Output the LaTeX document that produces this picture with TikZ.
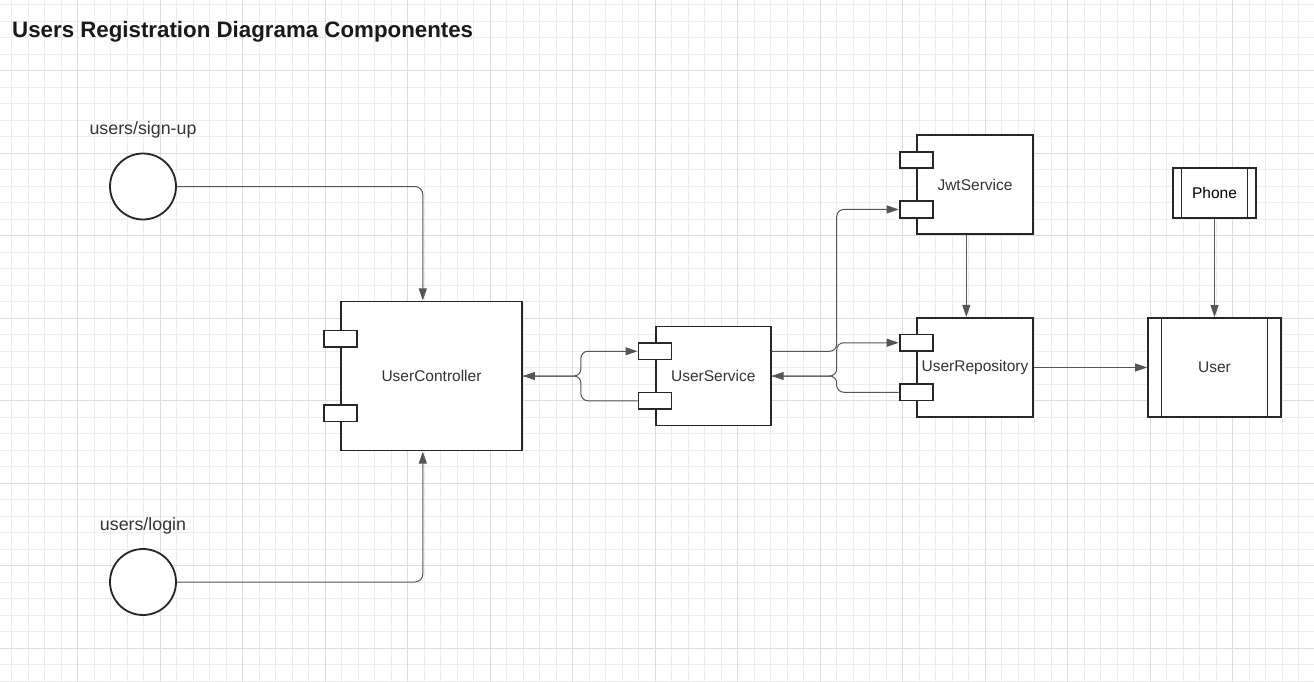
\documentclass[tikz,border=0pt]{standalone}
\usepackage{fontspec}
\setmainfont{Liberation Sans}
\usepackage{tikz}
\usetikzlibrary{arrows.meta,positioning,fit}
\definecolor{gridMinor}{HTML}{EDEDED}
\definecolor{gridMajor}{HTML}{DCDCDC}
\definecolor{inkGray}{HTML}{333333}
\definecolor{wireGray}{HTML}{555555}

\begin{document}
\begin{tikzpicture}[x=1pt, y=-1pt,
    minorgrid/.style={draw=gridMinor, line width=0.8pt},
    majorgrid/.style={draw=gridMajor, line width=0.9pt},
    comp/.style={draw=black!85, line width=1.8pt, fill=white, font=\fontsize{15.5}{18}\selectfont, text=inkGray, inner sep=0pt},
    port/.style={draw=black!85, line width=1.8pt, fill=white, minimum width=33pt, minimum height=16.5pt, inner sep=0pt},
    endpoint/.style={draw=black!85, circle, line width=1.8pt, fill=white, minimum size=66pt, inner sep=0pt},
    lbl/.style={font=\fontsize{17.8}{21}\selectfont, text=inkGray, inner sep=0pt},
    entity/.style={comp, path picture={
        \draw[black!85, line width=1.8pt] ([xshift=#1]path picture bounding box.north west) -- ([xshift=#1]path picture bounding box.south west);
        \draw[black!85, line width=1.8pt] ([xshift=-#1]path picture bounding box.north east) -- ([xshift=-#1]path picture bounding box.south east);}},
    whole/.style={inner sep=0pt, draw=none},
    arr/.style={-{Triangle[length=12pt, width=8pt]}, draw=wireGray, line width=1pt, rounded corners=7pt}
  ]
    \fill[white] (0,0) rectangle (1314,682);
    \useasboundingbox (0,0) rectangle (1314,682);
    \foreach \i in {0,...,79} \draw[minorgrid] ({11.5+16.5*\i},0) -- ++(0,682);
    \foreach \j in {0,...,41} \draw[minorgrid] (0,{4.5+16.5*\j}) -- ++(1314,0);
    \foreach \i in {0,...,15} \draw[majorgrid] ({77.5+82.5*\i},0) -- ++(0,682);
    \foreach \j in {0,...,7} \draw[majorgrid] (0,{70.5+82.5*\j}) -- ++(1314,0);

    \node[anchor=base west, inner sep=0pt, text=black!90, font=\bfseries\fontsize{22.3}{26}\selectfont] (title) at (12,37.5) {Users Registration Diagrama Componentes};

    \node[endpoint] (signup) at (143,186.5) {};
    \node[lbl, above=14pt of signup] (signupLbl) {users/sign-up};
    \node[endpoint] (login) at (143,582) {};
    \node[lbl, above=14pt of login] (loginLbl) {users/login};

    \node[comp, minimum width=181pt, minimum height=149pt] (ctrl) at (431.5,376) {UserController};
    \node[port, below=29pt of ctrl.north west] (ctrlA) {};
    \node[port, above=29pt of ctrl.south west] (ctrlB) {};
    \node[whole, fit=(ctrlA)(ctrl)] (ctrlAll) {};

    \node[comp, minimum width=115pt, minimum height=99pt, right=132pt of ctrl] (svc) {UserService};
    \node[port, below=16.5pt of svc.north west] (svcA) {};
    \node[port, above=16.5pt of svc.south west] (svcB) {};

    \node[comp, minimum width=116pt, minimum height=99pt] (repo) at (975,367.5) {UserRepository};
    \node[port, below=16.5pt of repo.north west] (repoA) {};
    \node[port, above=16.5pt of repo.south west] (repoB) {};
    \node[whole, fit=(repoA)(repo)] (repoAll) {};

    \node[comp, minimum width=116pt, minimum height=99pt, above=82pt of repo] (jwt) {JwtService};
    \node[port, below=16.5pt of jwt.north west] (jwtA) {};
    \node[port, above=16.5pt of jwt.south west] (jwtB) {};
    \node[whole, fit=(jwtA)(jwt)] (jwtAll) {};

    \node[entity=13.5pt, minimum width=133pt, minimum height=99pt] (user) at (1214.5,367.5) {User};
    \node[entity=8.5pt, minimum width=83pt, minimum height=50pt, text=black, above=98pt of user] (phone) {Phone};

    \coordinate (jL) at ([xshift=58pt]ctrl.east);
    \coordinate (jR) at ([xshift=65pt]svc.east);

    \draw[arr, rounded corners=8pt] (signup) -| (ctrlAll.north);
    \draw[arr, rounded corners=8pt] (login) -| (ctrlAll.south);
    \draw[arr] (ctrl.east) -- (jL) |- (svcA.west);
    \draw[arr] (svcB.west) -| (jL) -- (ctrl.east);
    \draw[arr] (svc.east |- svcA) -| (jR |- jwtB) -- (jwtB.west);
    \draw[arr] (svc.east) -- (jR) |- (repoA.west);
    \draw[arr] (repoB.west) -| (jR) -- (svc.east);
    \draw[arr] (jwtAll.south) -- (repoAll.north);
    \draw[arr] (repo) -- (user);
    \draw[arr] (phone) -- (user);
  \end{tikzpicture}
\end{document}
